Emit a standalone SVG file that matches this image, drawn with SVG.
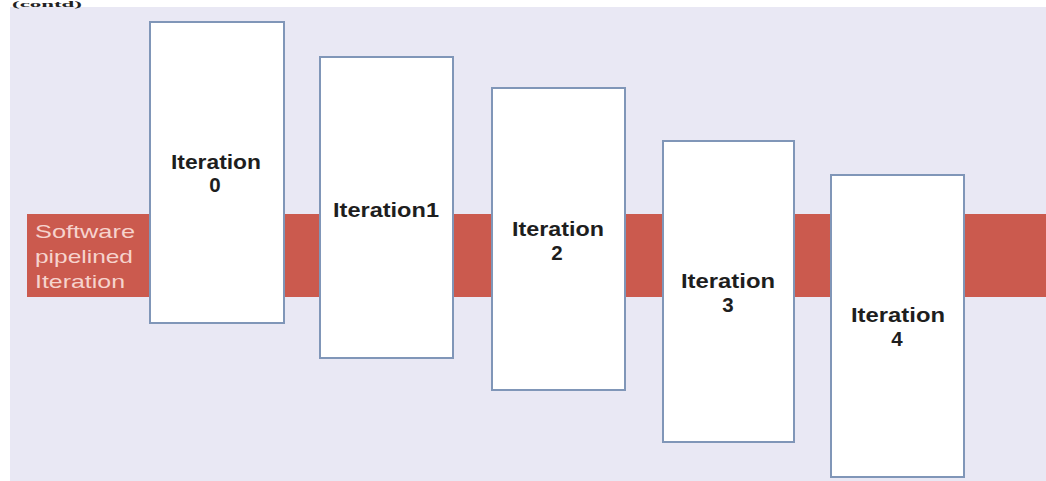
<svg xmlns="http://www.w3.org/2000/svg" width="1046" height="481" viewBox="0 0 1046 481">
<style>
.box{fill:#ffffff;stroke:#8096b8;stroke-width:2}
.lbl{font-family:"Liberation Sans",Arial,sans-serif;font-weight:bold;font-size:20.5px;fill:#1e1e1e;text-anchor:middle}
.side{font-family:"Liberation Sans",Arial,sans-serif;font-size:19px;fill:#f6d3cd}
</style>
<rect x="0" y="0" width="1046" height="481" fill="#ffffff"/>
<rect x="10" y="7" width="1036" height="474" fill="#e9e8f4"/>
<text x="12" y="7" font-family="Liberation Serif,serif" font-weight="bold" font-size="9" textLength="70" lengthAdjust="spacingAndGlyphs" fill="#222">(contd)</text>
<g id="band">
<rect x="27" y="214" width="1019" height="83" fill="#cb5a4e"/>
<text class="side" x="35" y="238" textLength="100" lengthAdjust="spacingAndGlyphs">Software</text>
<text class="side" x="35" y="263" textLength="98" lengthAdjust="spacingAndGlyphs">pipelined</text>
<text class="side" x="35" y="288" textLength="90" lengthAdjust="spacingAndGlyphs">Iteration</text>
</g>
<g id="connectors"></g>
<g id="iter0">
<rect class="box" x="150" y="22" width="134" height="301"/>
<text class="lbl" x="216" y="169" textLength="90" lengthAdjust="spacingAndGlyphs">Iteration</text>
<text class="lbl" x="215" y="192">0</text>
</g>
<g id="iter1">
<rect class="box" x="320" y="57" width="133" height="301"/>
<text class="lbl" x="386" y="217" textLength="106" lengthAdjust="spacingAndGlyphs">Iteration1</text>
</g>
<g id="iter2">
<rect class="box" x="492" y="88" width="133" height="302"/>
<text class="lbl" x="558" y="236" textLength="92" lengthAdjust="spacingAndGlyphs">Iteration</text>
<text class="lbl" x="557" y="260">2</text>
</g>
<g id="iter3">
<rect class="box" x="663" y="141" width="131" height="301"/>
<text class="lbl" x="728" y="288" textLength="94" lengthAdjust="spacingAndGlyphs">Iteration</text>
<text class="lbl" x="728" y="312">3</text>
</g>
<g id="iter4">
<rect class="box" x="831" y="175" width="133" height="302"/>
<text class="lbl" x="898" y="322" textLength="94" lengthAdjust="spacingAndGlyphs">Iteration</text>
<text class="lbl" x="897" y="346">4</text>
</g>
</svg>
